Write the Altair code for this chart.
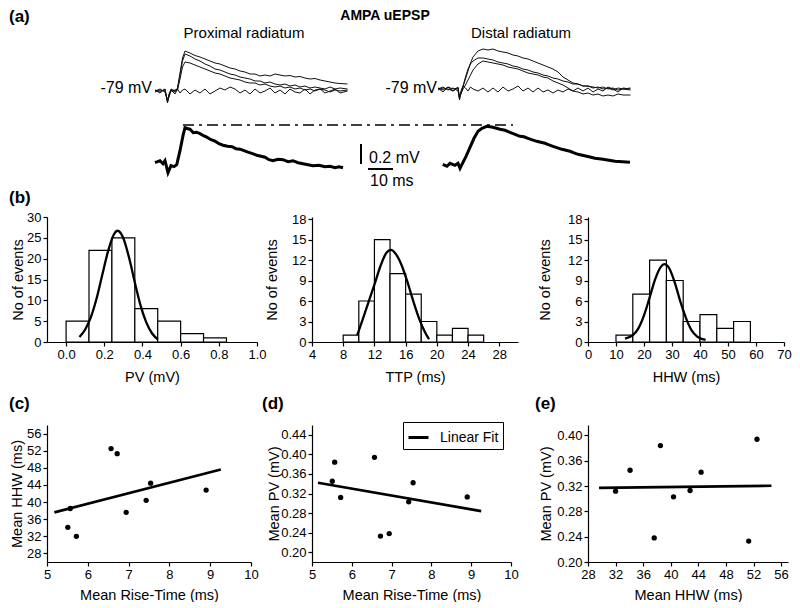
import altair as alt
import pandas as pd

FONT = "Liberation Sans"

# ---------------- (a) example traces (ms from trace start, mV above baseline) ----------------
PROX_T = [0, 2, 4, 5, 5.6, 6.4, 8, 9, 10, 11, 12, 14, 16, 18, 20, 22, 24, 26, 28, 30, 32, 34,
          36, 38, 40, 42, 44, 46, 48, 50, 52, 54, 56, 58, 60, 62, 64, 66, 68, 70, 72, 74, 77]
PROX_V1 = [0.00, 0.02, -0.01, -0.10, -0.06, 0.01, -0.01, 0.03, 0.18, 0.33, 0.40, 0.38, 0.355, 0.34,
           0.32, 0.30, 0.28, 0.27, 0.25, 0.23, 0.22, 0.20, 0.19, 0.17, 0.17, 0.15, 0.16, 0.15, 0.17,
           0.16, 0.15, 0.155, 0.14, 0.145, 0.13, 0.12, 0.125, 0.11, 0.10, 0.09, 0.08, 0.075, 0.07]
PROX_V2 = [0.01, -0.01, 0.02, -0.12, -0.05, 0.00, 0.01, 0.02, 0.16, 0.30, 0.37, 0.35, 0.32, 0.30,
           0.27, 0.25, 0.22, 0.21, 0.19, 0.17, 0.16, 0.14, 0.13, 0.12, 0.10, 0.10, 0.08, 0.09, 0.07,
           0.06, 0.07, 0.05, 0.06, 0.04, 0.05, 0.03, 0.04, 0.03, 0.02, 0.04, 0.02, 0.03, 0.02]
PROX_V3 = [-0.01, 0.01, 0.00, -0.09, -0.04, 0.02, 0.00, 0.01, 0.12, 0.24, 0.29, 0.28, 0.26, 0.24,
           0.22, 0.20, 0.18, 0.17, 0.15, 0.13, 0.12, 0.11, 0.09, 0.08, 0.08, 0.06, 0.07, 0.05, 0.04,
           0.05, 0.03, 0.04, 0.02, 0.03, 0.01, 0.02, 0.00, 0.02, 0.01, -0.01, 0.01, 0.00, 0.01]
PROX_V4 = [0.01, -0.02, 0.02, -0.11, -0.03, 0.01, -0.03, 0.02, -0.02, 0.01, 0.02, -0.03, 0.01, -0.02,
           0.02, -0.03, 0.00, 0.03, 0.01, 0.04, 0.02, -0.02, 0.01, -0.03, 0.02, -0.02, 0.00, 0.03,
           -0.02, 0.01, -0.03, 0.02, -0.01, -0.02, 0.02, -0.03, 0.01, 0.02, -0.02, 0.00, 0.02, -0.02, 0.00]

DIST_T = [0, 2, 4, 6, 8, 8.6, 9.2, 10, 11, 12, 13, 14, 16, 18, 20, 22, 24, 26, 28, 30, 32, 34,
          36, 38, 40, 42, 44, 46, 48, 50, 52, 54, 56, 58, 60, 62, 64, 66, 68, 70, 72, 74, 77]
DIST_V1 = [0.00, 0.02, -0.01, 0.01, -0.02, -0.09, -0.04, 0.02, 0.10, 0.18, 0.26, 0.32,
           0.38, 0.40, 0.39, 0.40, 0.38, 0.37, 0.36, 0.34, 0.33, 0.31, 0.30, 0.28, 0.26, 0.24,
           0.22, 0.20, 0.17, 0.12, 0.09, 0.06, 0.05, 0.03, 0.03, 0.01, 0.02, 0.00, 0.01, -0.01,
           0.01, 0.00, -0.01]
DIST_V2 = [0.01, -0.01, 0.02, 0.00, 0.01, -0.10, -0.03, 0.03, 0.12, 0.20, 0.25, 0.28,
           0.31, 0.31, 0.30, 0.29, 0.27, 0.26, 0.25, 0.23, 0.22, 0.20, 0.19, 0.17, 0.16, 0.14,
           0.13, 0.11, 0.10, 0.08, 0.07, 0.05, 0.05, 0.03, 0.03, 0.02, 0.01, 0.02, 0.00, 0.01,
           -0.01, 0.00, 0.01]
DIST_V3 = [-0.01, 0.01, 0.00, -0.02, 0.01, -0.08, -0.05, 0.00, 0.04, 0.09, 0.14, 0.19,
           0.25, 0.28, 0.27, 0.26, 0.25, 0.24, 0.22, 0.21, 0.20, 0.18, 0.16, 0.15, 0.14, 0.12,
           0.11, 0.08, 0.06, 0.04, 0.01, -0.02, -0.03, -0.05, -0.04, -0.06, -0.05, -0.07, -0.06,
           -0.07, -0.05, -0.06, -0.06]
DIST_V4 = [0.01, -0.03, 0.02, -0.02, 0.02, -0.11, -0.02, 0.03, 0.01, -0.02, 0.02, 0.00,
           -0.02, 0.01, -0.03, 0.01, -0.03, 0.02, -0.02, 0.00, 0.03, -0.02, 0.01, -0.03, 0.01,
           -0.03, -0.01, -0.04, -0.01, -0.03, 0.00, -0.02, 0.01, -0.02, 0.01, -0.03, 0.00, -0.02,
           0.02, 0.00, -0.03, 0.01, 0.00]

PAVG_T = [0, 2, 3.2, 4, 5.2, 6.4, 7.6, 8.7, 10, 11.2, 12, 13.2, 14, 15.3, 16.6, 18, 19.4, 20.7,
          22.4, 24, 25.6, 27.2, 29, 30.8, 32.4, 34, 35.6, 37.2, 39, 40.7, 42.4, 44, 45.6, 47.2,
          49.2, 51.2, 53.2, 55.2, 57.2, 59.2, 61.2, 63.2, 65.6, 68, 70, 72, 73.6, 75.2]
PAVG_V = [0.00, 0.02, -0.01, 0.02, -0.10, -0.03, -0.04, -0.02, 0.12, 0.27, 0.35, 0.34, 0.335, 0.30,
          0.305, 0.29, 0.27, 0.255, 0.23, 0.215, 0.19, 0.175, 0.165, 0.16, 0.14, 0.135, 0.12, 0.105,
          0.09, 0.075, 0.065, 0.055, 0.03, 0.02, 0.035, 0.03, 0.01, 0.02, 0.00, -0.01, -0.02, -0.03,
          -0.025, -0.04, -0.035, -0.05, -0.04, -0.05]
DAVG_T = [0, 1.7, 2.9, 4.9, 6.1, 6.9, 8.1, 9.3, 10.9, 12.5, 14.1, 15.7, 17.6, 20.1, 22.9, 24.9,
          26.9, 28.9, 30.9, 32.5, 34.1, 35.8, 37.6, 39.2, 40.9, 42.5, 44.1, 45.9, 47.7, 49.3, 50.9,
          52.5, 54.1, 55.8, 57.6, 59.3, 60.9, 62.5, 64.1, 66.5, 68.9, 71.9, 74.9]
DAVG_V = [0.00, -0.02, 0.01, -0.01, 0.01, -0.04, 0.02, 0.08, 0.17, 0.26, 0.33, 0.36, 0.38, 0.37,
          0.35, 0.34, 0.32, 0.30, 0.28, 0.275, 0.26, 0.245, 0.23, 0.22, 0.21, 0.195, 0.18, 0.165,
          0.15, 0.14, 0.13, 0.115, 0.10, 0.09, 0.08, 0.07, 0.06, 0.055, 0.05, 0.04, 0.03, 0.025, 0.02]

SCALE_MV = 0.2   # vertical scale bar
SCALE_MS = 10    # horizontal scale bar

# ---------------- (b) histograms ----------------
PV_BIN_START = [0.00, 0.12, 0.24, 0.36, 0.48, 0.60, 0.72]
PV_BIN_WIDTH = 0.12
PV_COUNTS = [5, 22, 25, 8, 5, 2, 1]
PV_FIT_X = [0.07, 0.10, 0.13, 0.16, 0.19, 0.22, 0.25, 0.27, 0.30, 0.33, 0.36, 0.39, 0.42, 0.45, 0.48]
PV_FIT_Y = [1.2, 3.0, 6.0, 10.5, 16.2, 21.8, 25.8, 26.7, 24.9, 20.2, 14.3, 8.8, 4.7, 2.1, 0.6]

TTP_BIN_START = [8, 10, 12, 14, 16, 18, 20, 22, 24]
TTP_BIN_WIDTH = 2
TTP_COUNTS = [1, 6, 15, 10, 7, 3, 1, 2, 1]
TTP_FIT_X = [9.8, 10.5, 11.2, 12.0, 12.8, 13.5, 14.1, 14.8, 15.5, 16.2, 17.0, 17.8, 18.5, 19.0]
TTP_FIT_Y = [1.0, 3.3, 5.7, 8.4, 11.2, 13.0, 13.5, 12.8, 11.2, 8.9, 5.9, 3.2, 1.4, 0.4]

HHW_BIN_START = [10, 16, 22, 28, 34, 40, 46, 52]
HHW_BIN_WIDTH = 6
HHW_COUNTS = [1, 7, 12, 9, 3, 4, 2, 3]
HHW_FIT_X = [13.2, 16, 18, 20, 22, 24, 26, 27.3, 29, 31, 33, 35, 37, 39, 42]
HHW_FIT_Y = [0.5, 1.0, 2.0, 3.9, 6.5, 9.2, 11.0, 11.4, 10.8, 8.7, 5.9, 3.5, 1.7, 0.8, 0.3]

# ---------------- (c)-(e) per-cell means ----------------
RISE_TIME = [5.51, 5.57, 5.72, 6.57, 6.72, 6.94, 7.43, 7.54, 8.90]
MEAN_HHW = [34.1, 38.5, 32.0, 52.5, 51.3, 37.6, 40.4, 44.4, 42.8]
MEAN_PV = [0.345, 0.384, 0.312, 0.394, 0.233, 0.238, 0.303, 0.342, 0.313]

FIT_C_X, FIT_C_Y = [5.18, 9.26], [37.6, 47.6]
FIT_D_X, FIT_D_Y = [5.15, 9.25], [0.342, 0.284]
FIT_E_X, FIT_E_Y = [29.6, 54.6], [0.317, 0.3205]

LEFT_EDGE = -38.5   # left bound shared by all rows (relative to first plot's origin)


def one():
    return pd.DataFrame({"k": [0]})


def label(text, x, y, size, bold=False, align="left", baseline="middle"):
    return alt.Chart(one()).mark_text(
        text=text, font=FONT, fontSize=size, fontWeight="bold" if bold else "normal",
        align=align, baseline=baseline, color="black"
    ).encode(x=alt.value(x), y=alt.value(y))


def frame_guide(top, bottom):
    # invisible guide that fixes the row's layout bounds
    return alt.Chart(one()).mark_rule(strokeOpacity=0, strokeWidth=1).encode(
        x=alt.value(LEFT_EDGE), y=alt.value(top), y2=alt.value(bottom))


# ---------------- panel (a) ----------------
def frame(name, times, values, t0, base):
    return pd.DataFrame({"t": [t + t0 for t in times],
                         "v": [v + base for v in values],
                         "trace": name})

raw_df = pd.concat([
    frame("p1", PROX_T, PROX_V1, 43.2, 1.03),
    frame("p2", PROX_T, PROX_V2, 43.2, 1.03),
    frame("p3", PROX_T, PROX_V3, 43.2, 1.03),
    frame("p4", PROX_T, PROX_V4, 43.2, 1.03),
    frame("d1", DIST_T, DIST_V1, 156.4, 1.05),
    frame("d2", DIST_T, DIST_V2, 156.4, 1.05),
    frame("d3", DIST_T, DIST_V3, 156.4, 1.05),
    frame("d4", DIST_T, DIST_V4, 156.4, 1.05),
])
avg_df = pd.concat([
    frame("pa", PAVG_T, PAVG_V, 43.2, 0.313),
    frame("da", DAVG_T, DAVG_V, 158.3, 0.297),
])

xa = alt.X("t:Q", scale=alt.Scale(domain=[0, 298], nice=False, zero=False), axis=None)
ya = alt.Y("v:Q", scale=alt.Scale(domain=[0.6, 1.85], nice=False, zero=False), axis=None)

raw_lines = alt.Chart(raw_df).mark_line(color="#111111", strokeWidth=1.0).encode(
    x=xa, y=ya, detail="trace:N")
avg_lines = alt.Chart(avg_df).mark_line(color="black", strokeWidth=3.0).encode(
    x=xa, y=ya, detail="trace:N")
dash = alt.Chart(pd.DataFrame({"t": [54.4], "t2": [186.4], "v": [0.69]})).mark_rule(
    color="black", strokeWidth=1.3, strokeDash=[11, 5, 3, 5]).encode(x=xa, x2="t2:Q", y=ya)
bar_v = alt.Chart(pd.DataFrame({"t": [125.6], "v": [0.30], "v2": [0.30 + SCALE_MV]})).mark_rule(
    color="black", strokeWidth=2).encode(x=xa, y=ya, y2="v2:Q")
bar_h = alt.Chart(pd.DataFrame({"t": [128.4], "t2": [128.4 + SCALE_MS], "v": [0.25]})).mark_rule(
    color="black", strokeWidth=2).encode(x=xa, x2="t2:Q", y=ya)

row_a = alt.layer(
    raw_lines, avg_lines, dash, bar_v, bar_h,
    label("(a)", -38, 0, 17, bold=True, baseline="top"),
    label("AMPA uEPSP", 338, 0, 14, bold=True, align="center", baseline="top"),
    label("Proximal radiatum", 197, 24, 15, align="center"),
    label("Distal radiatum", 474, 24, 15, align="center"),
    label("-79 mV", 105, 79, 16, align="right"),
    label("-79 mV", 390, 79, 16, align="right"),
    label("0.2 mV", 322, 149, 16),
    label("10 ms", 323, 172, 16),
    frame_guide(0, 180),
).properties(width=745, height=125)


# ---------------- panel (b) ----------------
def hist(starts, width, counts, fit_x, fit_y, xdom, xticks, xfmt, ydom, yticks,
         xtitle, group_w, range_w, title_x, letter=None):
    df = pd.DataFrame({"lo": starts, "hi": [s + width for s in starts], "n": counts,
                       "base": [0] * len(counts)})
    fdf = pd.DataFrame({"lo": fit_x, "n": fit_y})
    xs = alt.Scale(domain=xdom, nice=False, zero=False, range=[0, range_w])
    ys = alt.Scale(domain=ydom, nice=False, zero=False)
    xax = alt.Axis(values=xticks, format=xfmt, title=xtitle, titlePadding=9)
    yax = alt.Axis(values=yticks, title="No of events", titleX=title_x,
                   titleAngle=270, titleBaseline="bottom")
    bars = alt.Chart(df).mark_rect(fill="white", stroke="black", strokeWidth=1.2).encode(
        x=alt.X("lo:Q", scale=xs, axis=xax), x2="hi:Q",
        y=alt.Y("n:Q", scale=ys, axis=yax), y2="base:Q")
    curve = alt.Chart(fdf).mark_line(color="black", strokeWidth=2.3, interpolate="monotone").encode(
        x=alt.X("lo:Q", scale=xs, axis=xax), y=alt.Y("n:Q", scale=ys, axis=yax))
    layers = [bars, curve]
    if letter:
        layers.append(label(letter, -38, -19, 17, bold=True))
        layers.append(frame_guide(-28, 175))
    return alt.layer(*layers).properties(width=group_w, height=125)


h1 = hist(PV_BIN_START, PV_BIN_WIDTH, PV_COUNTS, PV_FIT_X, PV_FIT_Y, [-0.1, 1.0],
          [0, 0.2, 0.4, 0.6, 0.8, 1.0], ".1f", [0, 30], [0, 5, 10, 15, 20, 25, 30],
          "PV (mV)", 210, 210, -22, letter="(b)")
h2 = hist(TTP_BIN_START, TTP_BIN_WIDTH, TTP_COUNTS, TTP_FIT_X, TTP_FIT_Y, [4, 30.4],
          [4, 8, 12, 16, 20, 24, 28], "d", [0, 18.3], [0, 3, 6, 9, 12, 15, 18],
          "TTP (ms)", 221, 206, -33)
h3 = hist(HHW_BIN_START, HHW_BIN_WIDTH, HHW_COUNTS, HHW_FIT_X, HHW_FIT_Y, [0, 70],
          [0, 10, 20, 30, 40, 50, 60, 70], "d", [0, 18.3], [0, 3, 6, 9, 12, 15, 18],
          "HHW (ms)", 196, 196, -36)


# ---------------- panels (c)-(e) ----------------
def scatter(xv, yv, fx, fy, xdom, xticks, xfmt, ydom, yticks, yfmt, xtitle, ytitle,
            group_w, range_w, title_x, letter, letter_x, legend=False, guide=False):
    pts = pd.DataFrame({"x": xv, "y": yv})
    fit = pd.DataFrame({"x": fx, "y": fy, "series": ["Linear Fit"] * len(fx)})
    xs = alt.Scale(domain=xdom, nice=False, zero=False, range=[0, range_w])
    ys = alt.Scale(domain=ydom, nice=False, zero=False)
    xax = alt.Axis(values=xticks, format=xfmt, title=xtitle, titlePadding=7)
    yax = alt.Axis(values=yticks, format=yfmt, title=ytitle, titleX=title_x,
                   titleAngle=270, titleBaseline="bottom")
    dots = alt.Chart(pts).mark_circle(size=28, color="black", opacity=1).encode(
        x=alt.X("x:Q", scale=xs, axis=xax), y=alt.Y("y:Q", scale=ys, axis=yax))
    if legend:
        color = alt.Color("series:N", scale=alt.Scale(range=["black"]),
                          legend=alt.Legend(title=None, orient="none", legendX=91, legendY=-3,
                                            symbolType="stroke", symbolSize=400,
                                            symbolStrokeWidth=3, labelFontSize=14,
                                            labelFont=FONT, labelColor="black",
                                            strokeColor="black", fillColor="white",
                                            padding=4, labelOffset=10))
        line = alt.Chart(fit).mark_line(strokeWidth=2.7).encode(
            x=alt.X("x:Q", scale=xs, axis=xax), y=alt.Y("y:Q", scale=ys, axis=yax), color=color)
    else:
        line = alt.Chart(fit).mark_line(color="black", strokeWidth=2.7).encode(
            x=alt.X("x:Q", scale=xs, axis=xax), y=alt.Y("y:Q", scale=ys, axis=yax))
    layers = [dots, line, label(letter, letter_x, -21, 17, bold=True)]
    if guide:
        layers.append(frame_guide(-33, 100))
    return alt.layer(*layers).properties(width=group_w, height=137)


pc = scatter(RISE_TIME, MEAN_HHW, FIT_C_X, FIT_C_Y, [5, 10], [5, 6, 7, 8, 9, 10], "d",
             [26, 58], [28, 32, 36, 40, 44, 48, 52, 56], "d",
             "Mean Rise-Time (ms)", "Mean HHW (ms)", 210, 204, -23, "(c)", -38, guide=True)
pdd = scatter(RISE_TIME, MEAN_PV, FIT_D_X, FIT_D_Y, [5, 10], [5, 6, 7, 8, 9, 10], "d",
              [0.18, 0.46], [0.20, 0.24, 0.28, 0.32, 0.36, 0.40, 0.44], ".2f",
              "Mean Rise-Time (ms)", "Mean PV (mV)", 221, 199, -31, "(d)", -50, legend=True)
pe = scatter(MEAN_HHW, MEAN_PV, FIT_E_X, FIT_E_Y, [28, 57], [28, 32, 36, 40, 44, 48, 52, 56], "d",
             [0.20, 0.4165], [0.20, 0.24, 0.28, 0.32, 0.36, 0.40], ".2f",
             "Mean HHW (ms)", "Mean PV (mV)", 200, 200, -35, "(e)", -53)

row_b = alt.hconcat(h1, h2, h3, spacing=55, bounds="flush").resolve_scale(
    x="independent", y="independent")
row_c = alt.hconcat(pc, pdd, pe, spacing=55, bounds="flush").resolve_scale(
    x="independent", y="independent", color="independent")

chart = alt.vconcat(row_a, row_b, row_c, spacing=0).resolve_scale(
    x="independent", y="independent", color="independent"
).properties(padding=0).configure(font=FONT).configure_view(stroke=None).configure_axis(
    grid=False, domainColor="black", tickColor="black", labelColor="black", titleColor="black",
    domainWidth=1.2, tickWidth=1.2, tickSize=4, labelPadding=2,
    labelFont=FONT, titleFont=FONT, labelFontSize=13, titleFontSize=14.5,
    titleFontWeight="normal", labelFlush=False, labelOverlap=False
)

chart.save("out.html", embed_options={"renderer": "svg", "actions": False})
